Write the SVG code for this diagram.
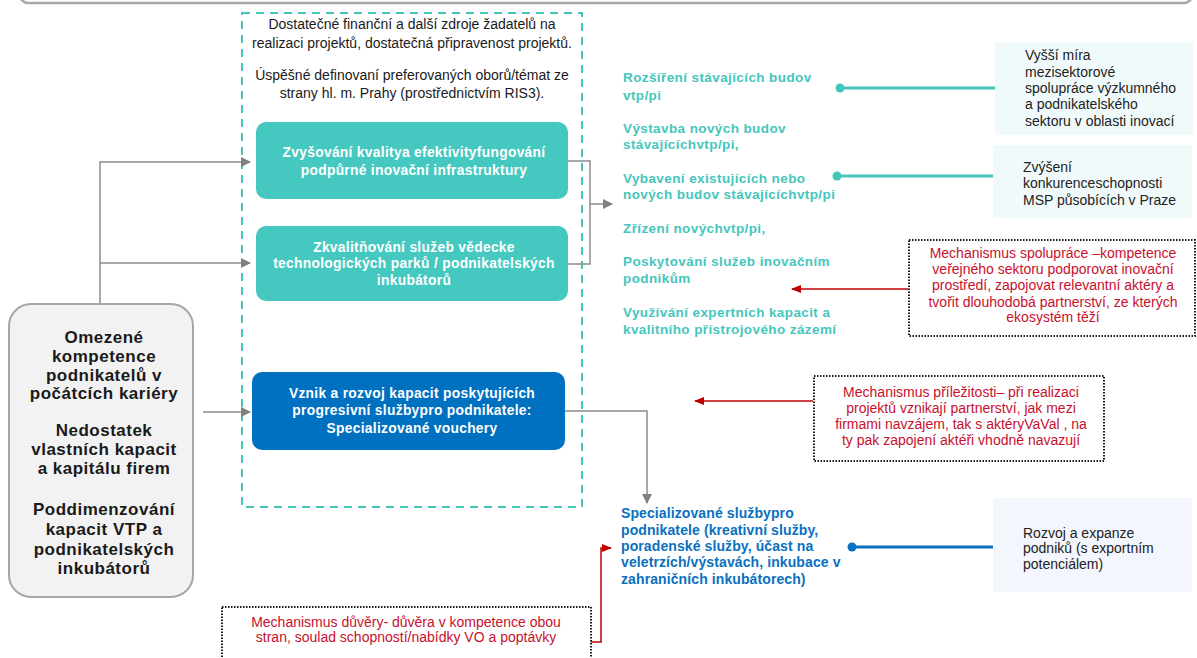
<svg xmlns="http://www.w3.org/2000/svg" width="1197" height="658" viewBox="0 0 1197 658">
<style>
  text { font-family: "Liberation Sans", Arial, sans-serif; }
  .dash { font-size: 14px; fill: #1a1a1a; text-anchor: middle; }
  .boxt { font-size: 13.8px; font-weight: bold; fill: #ffffff; text-anchor: middle; letter-spacing: 0.3px; }
  .left { font-size: 17px; font-weight: bold; fill: #1a1a1a; text-anchor: middle; letter-spacing: 0.5px; }
  .teal { font-size: 13.5px; font-weight: bold; fill: #45c6bd; letter-spacing: 0.4px; }
  .blue { font-size: 14px; font-weight: bold; fill: #0a70c0; letter-spacing: 0.1px; }
  .out { font-size: 14px; fill: #222222; }
  .red { font-size: 14px; fill: #c8102e; text-anchor: middle; }
  .gline { fill: none; stroke: #8c8c8c; stroke-width: 1.5; }
  .rline { fill: none; stroke: #c00000; stroke-width: 1.5; }
  .tline { fill: none; stroke: #45c6bd; stroke-width: 3; }
  .bline { fill: none; stroke: #0a70c0; stroke-width: 3; }
  .dotbox { fill: #ffffff; stroke: #1a1a1a; stroke-width: 2; stroke-dasharray: 1.5 1.5; }
</style>
<defs>
  <marker id="ar" viewBox="0 0 10 10" refX="9" refY="5" markerWidth="10" markerHeight="10" orient="auto" markerUnits="userSpaceOnUse">
    <path d="M0,1 L10,5 L0,9 z" fill="#c00000"/>
  </marker>
  <marker id="ag2" viewBox="0 0 10 10" refX="9" refY="5" markerWidth="10" markerHeight="10" orient="auto" markerUnits="userSpaceOnUse">
    <path d="M0,0 L10,5 L0,10 z" fill="#808080"/>
  </marker>
</defs>
<rect width="1197" height="658" fill="#ffffff"/>

<!-- top frame edge -->
<rect x="20" y="-30" width="1172" height="33" rx="8" fill="#ffffff" stroke="#a8a8a8" stroke-width="2.5"/>

<!-- dashed container -->
<g id="container">
  <rect x="242" y="13" width="340" height="494" fill="none" stroke="#45c6bd" stroke-width="2" stroke-dasharray="8 6"/>
  <text class="dash" x="412" y="29">Dostatečné finanční a další zdroje žadatelů na</text>
  <text class="dash" x="412" y="48">realizaci projektů, dostatečná připravenost projektů.</text>
  <text class="dash" x="412" y="80">Úspěšné definovaní preferovaných oborů/témat ze</text>
  <text class="dash" x="412" y="98">strany hl. m. Prahy (prostřednictvím RIS3).</text>
</g>

<!-- connectors -->
<g id="connectors">
  <path class="gline" d="M100,305 V162 H250" marker-end="url(#ag2)"/>
  <path class="gline" d="M100,263 H250" marker-end="url(#ag2)"/>
  <path class="gline" d="M203,412 H250" marker-end="url(#ag2)"/>
  <path class="gline" d="M568,161 H590 V264 H568"/>
  <path class="gline" d="M590,204 H612" marker-end="url(#ag2)"/>
  <path class="gline" d="M565,411 H647 V503" marker-end="url(#ag2)"/>
  <path class="tline" d="M840,88 H995"/>
  <circle cx="840" cy="88" r="4.5" fill="#45c6bd"/>
  <path class="tline" d="M837,176 H993"/>
  <circle cx="837" cy="176" r="4.5" fill="#45c6bd"/>
  <path class="bline" d="M852,547 H993"/>
  <circle cx="852" cy="547" r="4.5" fill="#0a70c0"/>
  <path class="rline" d="M908,289 H792" marker-end="url(#ar)"/>
  <path class="rline" d="M813,401 H695" marker-end="url(#ar)"/>
  <path class="rline" d="M591,642 H601 V548 H611" marker-end="url(#ar)"/>
</g>

<!-- left node -->
<g id="problems">
  <rect x="9" y="304" width="184" height="293" rx="22" fill="#f2f2f2" stroke="#a6a6a6" stroke-width="2"/>
  <text class="left" x="104" y="343">Omezené</text>
  <text class="left" x="104" y="362">kompetence</text>
  <text class="left" x="104" y="381">podnikatelů v</text>
  <text class="left" x="104" y="399">počátcích kariéry</text>
  <text class="left" x="104" y="436">Nedostatek</text>
  <text class="left" x="104" y="455">vlastních kapacit</text>
  <text class="left" x="104" y="474">a kapitálu firem</text>
  <text class="left" x="104" y="515">Poddimenzování</text>
  <text class="left" x="104" y="535">kapacit VTP a</text>
  <text class="left" x="104" y="555">podnikatelských</text>
  <text class="left" x="104" y="574">inkubátorů</text>
</g>

<!-- activity boxes -->
<g id="act1">
  <rect x="256" y="122" width="312" height="77" rx="10" fill="#45c8c0"/>
  <text class="boxt" x="414" y="157">Zvyšování kvalitya efektivityfungování</text>
  <text class="boxt" x="414" y="175">podpůrné inovační infrastruktury</text>
</g>
<g id="act2">
  <rect x="256" y="226" width="312" height="75" rx="10" fill="#45c8c0"/>
  <text class="boxt" x="414" y="252">Zkvalitňování služeb vědecke</text>
  <text class="boxt" x="414" y="268">technologických parků / podnikatelských</text>
  <text class="boxt" x="414" y="285">inkubátorů</text>
</g>
<g id="act3">
  <rect x="252" y="372" width="313" height="78" rx="10" fill="#0070c0"/>
  <text class="boxt" x="412" y="398">Vznik a rozvoj kapacit poskytujících</text>
  <text class="boxt" x="412" y="415">progresivní službypro podnikatele:</text>
  <text class="boxt" x="412" y="433">Specializované vouchery</text>
</g>

<!-- teal outputs list -->
<g id="outputs-teal">
  <text class="teal" x="623" y="82">Rozšíření stávajících budov</text>
  <text class="teal" x="623" y="100">vtp/pi</text>
  <text class="teal" x="623" y="133">Výstavba nových budov</text>
  <text class="teal" x="623" y="149">stávajícíchvtp/pi,</text>
  <text class="teal" x="623" y="183">Vybavení existujících nebo</text>
  <text class="teal" x="623" y="199">nových budov stávajícíchvtp/pi</text>
  <text class="teal" x="623" y="233">Zřízení novýchvtp/pi,</text>
  <text class="teal" x="623" y="266">Poskytování služeb inovačním</text>
  <text class="teal" x="623" y="283">podnikům</text>
  <text class="teal" x="623" y="317">Využívání expertních kapacit a</text>
  <text class="teal" x="623" y="334">kvalitního přístrojového zázemí</text>
</g>

<!-- blue output -->
<g id="outputs-blue">
  <text class="blue" x="621" y="518">Specializované službypro</text>
  <text class="blue" x="621" y="535">podnikatele (kreativní služby,</text>
  <text class="blue" x="621" y="551">poradenské služby, účast na</text>
  <text class="blue" x="621" y="567">veletrzích/výstavách, inkubace v</text>
  <text class="blue" x="621" y="584">zahraničních inkubátorech)</text>
</g>

<!-- impacts -->
<g id="impact1">
  <rect x="995" y="42" width="198" height="93" fill="#f1fafa"/>
  <text class="out" x="1025" y="60">Vyšší míra</text>
  <text class="out" x="1025" y="76.5">mezisektorové</text>
  <text class="out" x="1025" y="93">spolupráce výzkumného</text>
  <text class="out" x="1025" y="109">a podnikatelského</text>
  <text class="out" x="1025" y="125.5">sektoru v oblasti inovací</text>
</g>
<g id="impact2">
  <rect x="993" y="145" width="199" height="73" fill="#f1fafa"/>
  <text class="out" x="1023" y="172">Zvýšení</text>
  <text class="out" x="1023" y="188">konkurenceschopnosti</text>
  <text class="out" x="1023" y="205">MSP působících v Praze</text>
</g>
<g id="impact3">
  <rect x="993" y="498" width="199" height="94" fill="#f3f6fc"/>
  <text class="out" x="1023" y="538">Rozvoj a expanze</text>
  <text class="out" x="1023" y="553">podniků (s exportním</text>
  <text class="out" x="1023" y="569">potenciálem)</text>
</g>

<!-- mechanisms -->
<g id="mech1">
  <rect class="dotbox" x="909" y="240" width="286" height="96"/>
  <text class="red" x="1053" y="258">Mechanismus spolupráce –kompetence</text>
  <text class="red" x="1053" y="274">veřejného sektoru podporovat inovační</text>
  <text class="red" x="1053" y="290">prostředí, zapojovat relevantní aktéry a</text>
  <text class="red" x="1053" y="307">tvořit dlouhodobá partnerství, ze kterých</text>
  <text class="red" x="1053" y="322">ekosystém těží</text>
</g>
<g id="mech2">
  <rect class="dotbox" x="814" y="376" width="290" height="85"/>
  <text class="red" x="961" y="397">Mechanismus příležitosti– při realizaci</text>
  <text class="red" x="961" y="413">projektů vznikají partnerství, jak mezi</text>
  <text class="red" x="961" y="429">firmami navzájem, tak s aktéryVaVal , na</text>
  <text class="red" x="961" y="445">ty pak zapojení aktéři vhodně navazují</text>
</g>
<g id="mech3">
  <rect class="dotbox" x="222" y="607" width="369" height="70"/>
  <text class="red" x="406" y="627">Mechanismus důvěry- důvěra v kompetence obou</text>
  <text class="red" x="406" y="642">stran, soulad schopností/nabídky VO a poptávky</text>
</g>
</svg>
